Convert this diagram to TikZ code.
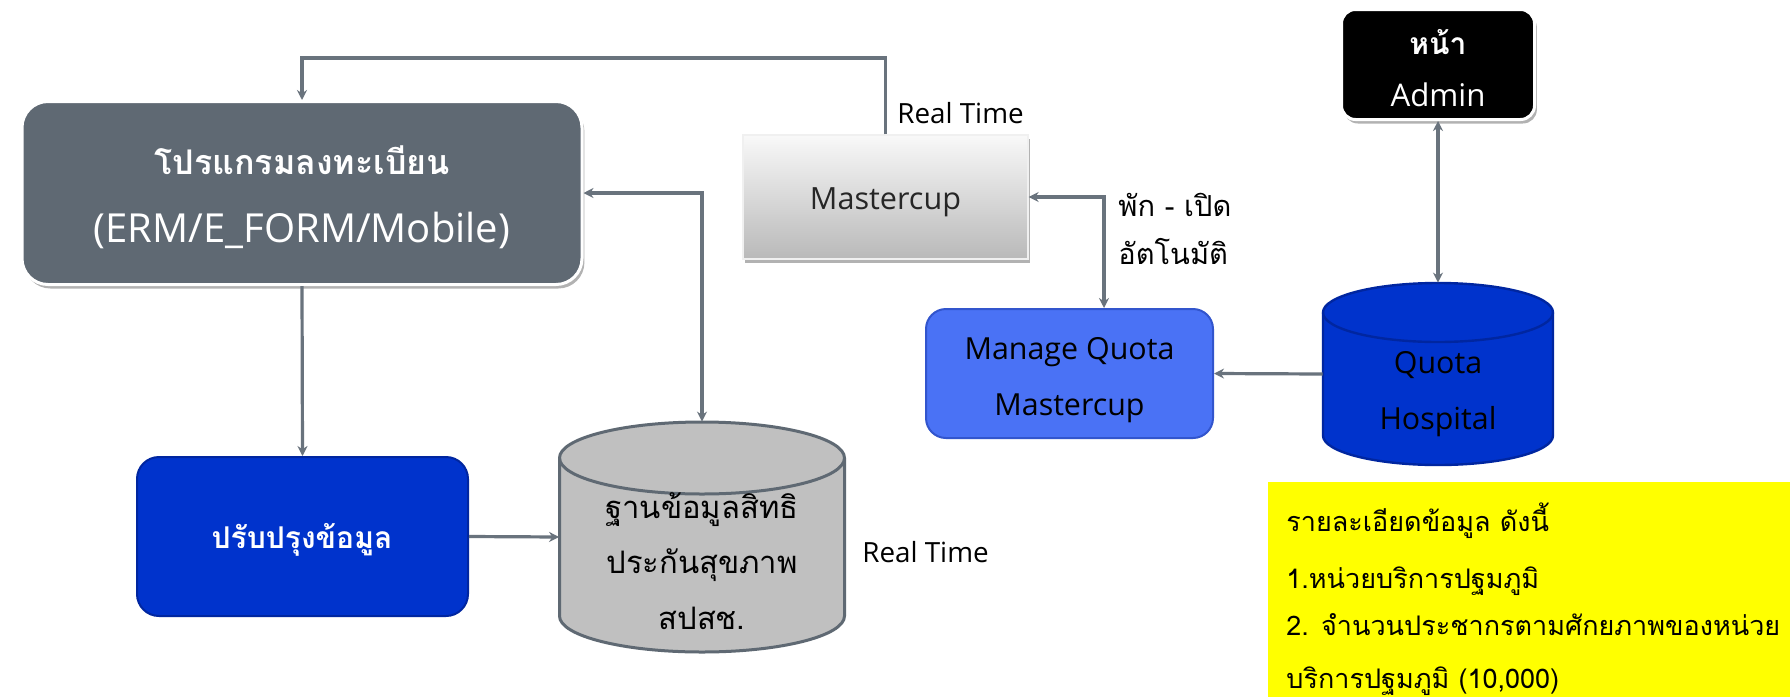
\documentclass[tikz,border=0pt]{standalone}
\usepackage{fontspec}
\setmainfont{Open Sans}
\newfontfamily\thai[Script=Thai]{Loma}
\usetikzlibrary{arrows.meta,shadows}
\definecolor{slate}{RGB}{95,105,115}
\definecolor{lineg}{RGB}{105,115,125}
\definecolor{royal}{RGB}{0,51,204}
\definecolor{royald}{RGB}{0,38,160}
\definecolor{midblue}{RGB}{74,114,245}
\definecolor{midblued}{RGB}{50,85,205}
\definecolor{cylgray}{RGB}{192,192,192}
\definecolor{note}{RGB}{255,255,0}
\begin{document}
\begin{tikzpicture}[x=0.5pt,y=-0.5pt,
  conn/.style={draw=lineg,line width=1.6pt},
  tipa/.tip={Stealth[length=5pt,width=5pt]},
  boxshadow/.style={drop shadow={shadow xshift=1.2pt,shadow yshift=-2pt,fill=black,opacity=0.3}},
  txt/.style={inner sep=0pt,anchor=center},
  lbl/.style={inner sep=0pt,anchor=west},
  latin/.style={font=\fontsize{15.2}{18}\selectfont},
  thaitxt/.style={font=\thai\fontsize{15.5}{19}\selectfont},
  notetxt/.style={inner sep=0pt,anchor=west,font=\thai\fontsize{13.5}{17}\selectfont}
]
\useasboundingbox (0,0) rectangle (1790,697);
\fill[white] (0,0) rectangle (1790,697);

% yellow note
\node[fill=note,inner sep=0pt,minimum width=261pt,minimum height=107.5pt,anchor=north west] (Y) at (1268,482) {};
\node[notetxt] (y1) at (1286,521) {รายละเอียดข้อมูล ดังนี้};
\node[notetxt] (y2) at (1286,581) {1.หน่วยบริการปฐมภูมิ};
\node[notetxt] (y3) at (1286,625) {2. จำนวนประชากรตามศักยภาพของหน่วย};
\node[notetxt] (y4) at (1286,681) {บริการปฐมภูมิ (10,000)};

% box A
\node[boxshadow,fill=slate,draw=white,line width=1.5pt,rounded corners=13pt,
      minimum width=280pt,minimum height=91.5pt,inner sep=0pt] (A) at (302,193) {};
\node[txt,text=white,font=\thai\bfseries\fontsize{17}{21}\selectfont] (A1) at (302,160) {โปรแกรมลงทะเบียน};
\node[txt,text=white,font=\fontsize{20}{24}\selectfont] (A2) at (302,230) {(ERM/E\_FORM/Mobile)};

% box B
\node[fill=royal,draw=royald,line width=1pt,rounded corners=11pt,
      minimum width=165.5pt,minimum height=79.5pt,inner sep=0pt] (B) at (302.5,536.5) {};
\node[txt,text=white,font=\thai\bfseries\fontsize{15}{19}\selectfont] (B1) at (302,540) {ปรับปรุงข้อมูล};

% cylinder C
\node[inner sep=0pt,minimum width=142.5pt,minimum height=115pt] (C) at (702,537) {};
\filldraw[fill=cylgray,draw=slate,line width=1.5pt]
  (559.5,458) -- (559.5,616) arc (180:360:71.25pt and 18pt) -- (844.5,458) arc (0:180:71.25pt and 18pt) -- cycle;
\draw[draw=slate,line width=1.5pt] (559.5,458) arc (180:360:71.25pt and 18pt);
\node[txt,thaitxt] (C1) at (702,510) {ฐานข้อมูลสิทธิ};
\node[txt,thaitxt] (C2) at (702,565) {ประกันสุขภาพ};
\node[txt,thaitxt] (C3) at (702,618) {สปสช.};
\node[lbl,font=\fontsize{13.9}{17}\selectfont] (RT2) at (862,552) {Real Time};

% Mastercup
\node[boxshadow,top color=white!95!gray,bottom color=gray!55,draw=white!88!gray,line width=0.6pt,
      minimum width=142.5pt,minimum height=62pt,inner sep=0pt] (MC) at (885.5,197) {};
\node[txt,text=black!85,font=\fontsize{15.3}{18}\selectfont] (MC1) at (885.5,202) {Mastercup};
\node[lbl,font=\fontsize{13.9}{17}\selectfont] (RT1) at (897,113) {Real Time};

% Manage Quota
\node[fill=midblue,draw=midblued,line width=1pt,rounded corners=10pt,
      minimum width=143.5pt,minimum height=64.5pt,inner sep=0pt] (MQ) at (1069.5,373.5) {};
\node[txt,latin] (MQ1) at (1069.5,352) {Manage Quota};
\node[txt,latin] (MQ2) at (1069.5,408) {Mastercup};
\node[lbl,font=\thai\fontsize{14.5}{17}\selectfont] (L1) at (1118,205) {พัก - เปิด};
\node[lbl,font=\thai\fontsize{14.5}{17}\selectfont] (L2) at (1118,252) {อัตโนมัติ};

% Quota Hospital cylinder
\node[inner sep=0pt,minimum width=115pt,minimum height=91pt] (QH) at (1438,374) {};
\filldraw[fill=royal,draw=royald,line width=1.2pt]
  (1323,312.5) -- (1323,435.5) arc (180:360:57.5pt and 14.75pt) -- (1553,312.5) arc (0:180:57.5pt and 14.75pt) -- cycle;
\draw[draw=royald,line width=1.2pt] (1323,312.5) arc (180:360:57.5pt and 14.75pt);
\node[txt,latin] (QH1) at (1438,365) {Quota};
\node[txt,latin] (QH2) at (1438,422) {Hospital};

% Admin
\node[boxshadow,fill=black,draw=white,line width=1.5pt,rounded corners=7pt,
      minimum width=96.5pt,minimum height=55pt,inner sep=0pt] (AD) at (1438,64.5) {};
\node[txt,text=white,font=\thai\bfseries\fontsize{15}{18}\selectfont] (AD1) at (1438,42) {หน้า};
\node[txt,text=white,font=\fontsize{15.6}{18}\selectfont] (AD2) at (1438,95) {Admin};

% connectors
\coordinate (topy) at (0,58);
\coordinate (xq) at (1104,0);
\draw[conn,-tipa] (MC.north) -- (MC.north |- topy) -| (A.north);
\draw[conn,tipa-tipa] (A.east) -| (C.north);
\draw[conn,-tipa] (A.south) -- (B.north);
\draw[conn,-tipa] (B.east) -- (C.west);
\draw[conn,tipa-tipa] (MC.east) -| (MQ.north -| xq);
\draw[conn,-tipa] (QH.west) -- (MQ.east);
\draw[conn,tipa-tipa] (AD.south) -- (QH.north);
\end{tikzpicture}
\end{document}
